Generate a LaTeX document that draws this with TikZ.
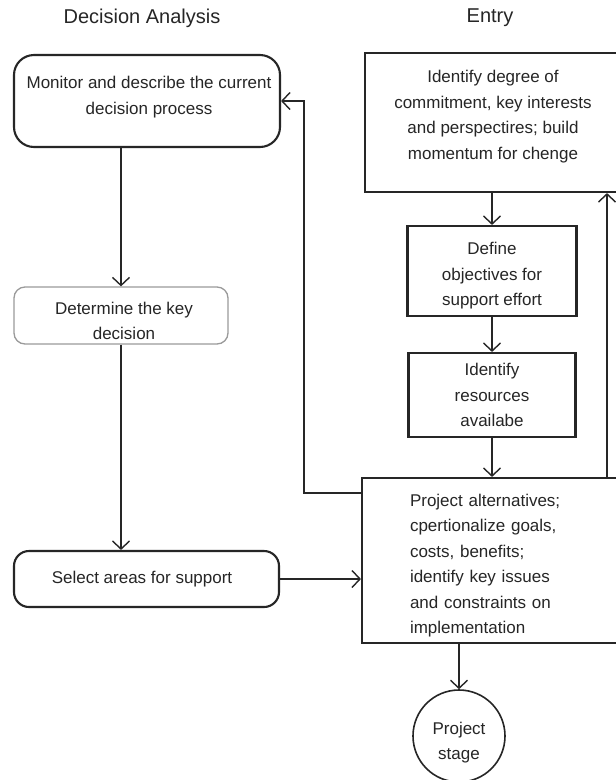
\documentclass[tikz,border=0pt]{standalone}
\usepackage{fontspec}
\setmainfont{Liberation Sans}
\usetikzlibrary{arrows.meta}
\definecolor{ink}{HTML}{262626}
\definecolor{soft}{HTML}{9A9A9A}
\begin{document}
\begin{tikzpicture}[x=1pt,y=-1pt,
  every node/.style={text=ink,font=\fontsize{17}{25.5}\selectfont},
  box/.style={draw=ink,line width=2.1pt,inner sep=0pt},
  txt/.style={align=center,inner sep=0pt},
  arr/.style={draw=ink,line width=2.1pt,-{Straight Barb[length=8pt,width=17pt,line width=1.4pt]}},
  title/.style={font=\fontsize{20}{23}\selectfont}]
\clip (0,0) rectangle (616,780);
\fill[white] (0,0) rectangle (616,780);

\node[title] (t1) at (142,18) {Decision Analysis};
\node[title] (t2) at (490,18) {Entry};

% boxes
\node[box,rounded corners=20pt,minimum width=266pt,minimum height=92pt] (b1) at (147,101) {};
\node[box,draw=soft,line width=1.3pt,rounded corners=11pt,minimum width=214pt,minimum height=57pt] (det) at (121,315.5) {};
\node[box,rounded corners=15pt,minimum width=265pt,minimum height=56pt] (sel) at (146.5,579) {};
\node[box,minimum width=255pt,minimum height=139pt] (ent) at (492.5,122.5) {};
\node[box,minimum width=169pt,minimum height=90pt] (def) at (492,271) {};
\node[box,minimum width=167pt,minimum height=84pt] (res) at (492,395) {};
\node[box,minimum width=258pt,minimum height=165pt] (proj) at (491,560.5) {};
\node[draw=ink,line width=1.6pt,circle,minimum size=92pt,inner sep=0pt] (stg) at (459,736) {};

% texts
\node[txt] (b1t) at (149,97) {Monitor and describe the current\\decision process};
\node[txt] (dett) at (124,321) {Determine the key\\decision};
\node[txt] (selt) at (142,579) {Select areas for support};
\node[txt] (entt) at (493,116.5) {Identify degree of\\commitment, key interests\\and perspectires; build\\momentum for chenge};
\node[txt] (deft) at (492,276) {Define\\objectives for\\support effort};
\node[txt] (rest) at (492,395) {Identify\\resources\\availabe};
\node[txt,text width=162pt,align=left] (projt) at (491,565.5) {Project alternatives;\\cpertionalize goals,\\costs, benefits;\\identify key issues\\and constraints on\\implementation};
\node[txt,font=\fontsize{17}{25}\selectfont] (stgt) at (459,743) {Project\\stage};

% connectors
\draw[arr] (b1.south -| det.north) -- (det.north);
\draw[arr] (det.south) -- (det.south |- sel.north);
\draw[arr] (sel.east) -- (sel.east -| proj.west);
\draw[arr] (ent.south -| def.north) -- (def.north);
\draw[arr] (def.south) -- (res.north);
\draw[arr] (res.south) -- (res.south |- proj.north);
\draw[arr] (proj.south -| stg.north) -- (stg.north);
\coordinate (fl) at (304,101);
\draw[arr] ([yshift=-16pt]proj.north west) -| (fl) -- (b1.east);
\coordinate (fr) at (607,300);
\draw[arr] (proj.north -| fr) -- (ent.south -| fr);
\end{tikzpicture}
\end{document}
